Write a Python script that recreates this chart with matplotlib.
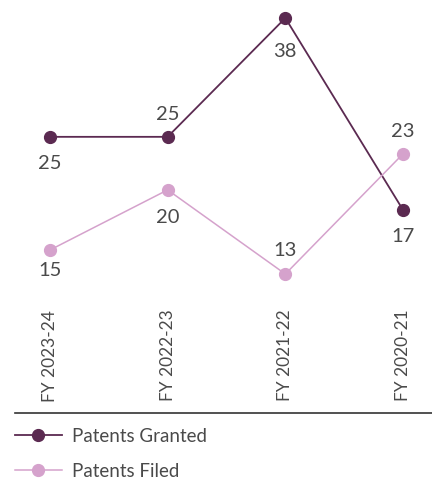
import matplotlib
matplotlib.use('Agg')
import matplotlib.pyplot as plt
from matplotlib.lines import Line2D

years = ['FY 2023-24', 'FY 2022-23', 'FY 2021-22', 'FY 2020-21']
granted = [25, 25, 38, 17]
filed = [15, 20, 13, 23]

# value label offsets in points (negative = below the marker)
granted_off = [-19, 16, -24, -19]
filed_off = [-15, -20, 17, 16]

dark = '#5b2a51'
light = '#d5a2cc'
text_col = '#4a4a4a'

plt.rcParams['font.family'] = ['Lato', 'DejaVu Sans']

fig = plt.figure(figsize=(4.32, 4.8), dpi=100)
ax = fig.add_axes([15 / 432, 1 - 300 / 480, 417 / 432, 300 / 480])
ax2 = ax.twinx()

x = list(range(len(years)))
ax.plot(x, granted, color=dark, lw=1.3, marker='o', ms=8.5, zorder=3)
ax2.plot(x, filed, color=light, lw=1.1, marker='o', ms=8.5, zorder=3)

ax.set_xlim(-0.297, 3.246)
ax.set_ylim(7.15, 39.97)
ax2.set_ylim(10.84, 35.8)

for a, vals, offs in [(ax, granted, granted_off), (ax2, filed, filed_off)]:
    for xi, v, o in zip(x, vals, offs):
        a.annotate(str(v), (xi, v), xytext=(0, o), textcoords='offset points',
                   ha='center', va='center', fontsize=14.5, color=text_col)

for a in (ax, ax2):
    for sp in a.spines.values():
        sp.set_visible(False)
    a.set_yticks([])

ax.set_xticks(x)
ax.set_xticklabels(years, rotation=90, fontsize=12.5, color=text_col)
ax.tick_params(axis='x', length=0, pad=7)

# rule under the category labels
fig.add_artist(Line2D([15 / 432, 1], [1 - 413 / 480] * 2, color='#333333', lw=1.2))

handles = [Line2D([], [], color=dark, lw=1.3, marker='o', ms=8.5),
           Line2D([], [], color=light, lw=1.1, marker='o', ms=8.5)]
fig.legend(handles, ['Patents Granted', 'Patents Filed'], loc='upper left',
           bbox_to_anchor=(15 / 432, 1 - 428 / 480), frameon=False,
           fontsize=13.5, labelcolor=text_col, handlelength=2.5,
           handletextpad=0.55, labelspacing=0.95, borderpad=0,
           borderaxespad=0)

fig.savefig('out.png', dpi=100)
